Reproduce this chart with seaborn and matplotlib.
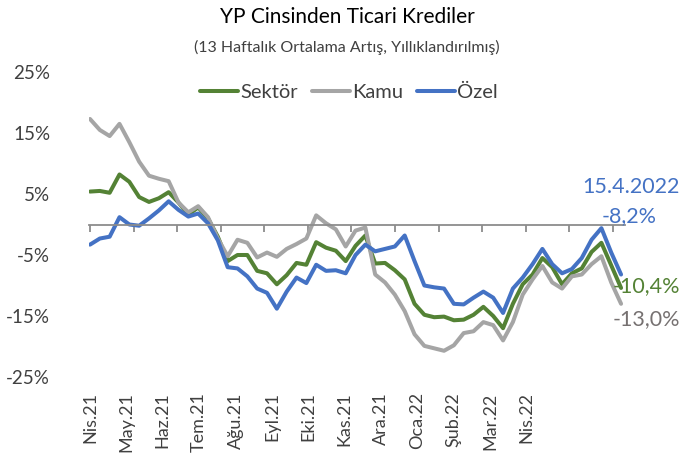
import numpy as np
import pandas as pd
import matplotlib
matplotlib.use("Agg")
import matplotlib.pyplot as plt
import seaborn as sns

# ---- data (weekly, 13-week avg growth, annualized, %) ----
sektor = [5.4, 5.5, 5.2, 8.2, 7.0, 4.5, 3.7, 4.3, 5.3, 3.6, 1.6, 2.8, 1.0, -2.0,
          -6.0, -5.0, -5.0, -7.6, -8.0, -9.8, -8.3, -6.3, -6.6, -2.9, -3.8, -4.3,
          -6.0, -3.5, -1.8, -6.4, -6.3, -7.5, -9.0, -13.0, -14.8, -15.2, -15.1,
          -15.7, -15.6, -14.8, -13.5, -15.0, -17.0, -13.0, -9.8, -8.2, -5.5, -7.0,
          -9.8, -8.0, -7.2, -4.5, -3.0, -6.7, -10.4]
kamu = [17.3, 15.5, 14.5, 16.5, 13.5, 10.3, 8.0, 7.5, 7.1, 3.6, 2.0, 3.0, 1.2, -2.3,
        -5.2, -2.5, -3.0, -5.4, -4.6, -5.3, -4.0, -3.2, -2.3, 1.5, 0.2, -0.8,
        -3.6, -1.0, -0.5, -8.2, -9.5, -11.5, -14.2, -18.0, -19.9, -20.3, -20.7,
        -19.8, -17.8, -17.5, -16.0, -16.5, -19.0, -16.0, -11.5, -9.0, -6.8, -9.5,
        -10.5, -8.5, -8.2, -6.5, -5.2, -9.5, -13.0]
ozel = [-3.3, -2.3, -2.0, 1.2, 0.0, -0.2, 1.0, 2.3, 3.8, 2.4, 1.3, 1.8, 0.2, -2.6,
        -7.0, -7.2, -8.5, -10.5, -11.2, -13.8, -11.0, -8.7, -9.6, -6.6, -7.6, -7.5,
        -8.0, -5.0, -3.3, -4.4, -4.0, -3.6, -1.8, -6.0, -10.0, -10.3, -10.5,
        -13.0, -13.1, -12.0, -11.0, -12.0, -14.5, -10.5, -8.7, -6.5, -4.0, -6.5,
        -8.0, -7.3, -5.5, -2.5, -0.6, -4.6, -8.2]
months = ["Nis.21", "May.21", "Haz.21", "Tem.21", "Ağu.21", "Eyl.21", "Eki.21",
          "Kas.21", "Ara.21", "Oca.22", "Şub.22", "Mar.22", "Nis.22"]
series_names = ["Sektör", "Kamu", "Özel"]
last_date = "15.4.2022"

colors = {"Sektör": "#548235", "Kamu": "#a5a5a5", "Özel": "#4472c4"}
label_colors = {"Sektör": "#548235", "Kamu": "#767171", "Özel": "#4472c4"}

week = np.arange(len(sektor))
df = pd.DataFrame({"week": np.tile(week, 3),
                   "value": sektor + kamu + ozel,
                   "seri": np.repeat(series_names, len(week))})

sns.set_theme(style="white")
plt.rcParams["font.family"] = ["Lato", "DejaVu Sans"]

fig = plt.figure(figsize=(6.94, 4.66), dpi=100)
ax = fig.add_axes([89 / 694, 89 / 466, 536 / 694, 305 / 466])

sns.lineplot(data=df, x="week", y="value", hue="seri", palette=colors,
             hue_order=series_names, linewidth=2.9, ax=ax, legend=False)

ax.set_xlim(-0.1, 54.4)
ax.set_ylim(-25, 25)
ax.set_xlabel("")
ax.set_ylabel("")

# zero line with tick marks
for s in ["left", "top", "right"]:
    ax.spines[s].set_visible(False)
ax.spines["bottom"].set_position(("data", 0))
ax.spines["bottom"].set_color("#8c8c8c")
ax.spines["bottom"].set_linewidth(1.3)
ax.set_xticks(np.arange(13) * 4.43)
ax.set_xticklabels([])
ax.tick_params(axis="x", direction="out", length=5, width=1.3, color="#8c8c8c", bottom=True)

ax.set_yticks([-25, -15, -5, 5, 15, 25])
ax.set_yticklabels([f"{v}%" for v in [-25, -15, -5, 5, 15, 25]])
ax.tick_params(axis="y", length=0, pad=28, labelsize=13.5, labelcolor="#404040")

# month labels at bottom
sec = ax.secondary_xaxis("bottom")
sec.set_xticks(np.arange(13) * 3.7, labels=months, rotation=90)
sec.tick_params(length=0, pad=11, labelsize=13, labelcolor="#404040")
sec.spines["bottom"].set_visible(False)

# legend
handles = [plt.Line2D([], [], color=colors[n], lw=2.9) for n in series_names]
ax.legend(handles, series_names, loc="center", bbox_to_anchor=(0.485, 1 - (92 - 72) / 305),
          ncol=3, frameon=False, fontsize=14.5, handlelength=1.9, handletextpad=0.1,
          columnspacing=0.7, labelcolor="#404040")

# end labels
last = len(week) - 1
offsets = {"Sektör": (-6, 1), "Kamu": (-6, -11), "Özel": (-14, 42)}
for name, vals in zip(series_names, [sektor, kamu, ozel]):
    txt = f"{vals[-1]:.1f}%".replace(".", ",")
    ax.annotate(txt, xy=(last, vals[-1]), xytext=offsets[name], textcoords="offset points",
                ha="left", va="center", fontsize=15.5, color=label_colors[name])
ax.annotate(last_date, xy=(last, ozel[-1]), xytext=(-28, 63), textcoords="offset points",
            ha="left", va="center", fontsize=15.5, color=colors["Özel"])

fig.text(0.5, 1 - 17 / 466, "YP Cinsinden Ticari Krediler", ha="center", va="center",
         fontsize=15, color="black")
fig.text(0.5, 1 - 47 / 466, "(13 Haftalık Ortalama Artış, Yıllıklandırılmış)", ha="center",
         va="center", fontsize=11.5, color="#404040")

fig.savefig("out.png", dpi=100)
